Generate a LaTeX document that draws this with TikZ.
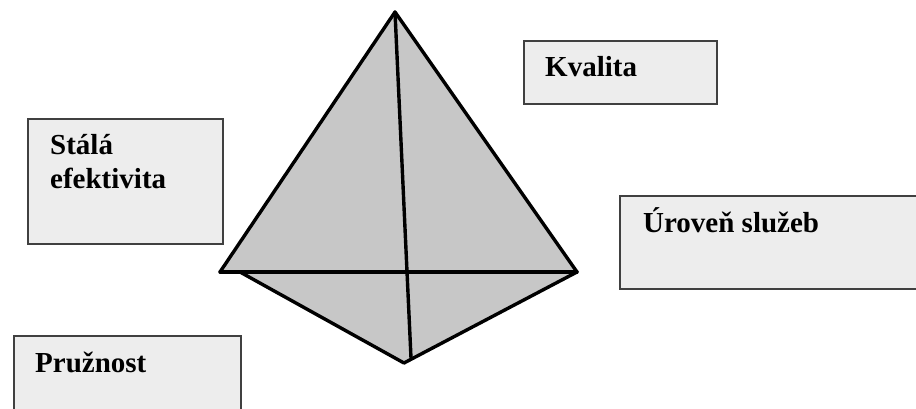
\documentclass[tikz,border=0pt]{standalone}
\usepackage{fontspec}
\setmainfont{Liberation Serif}

\tikzset{
	box/.style={draw=black!75, line width=1.8pt, fill=black!7, anchor=north west, inner sep=0pt},
	boxtext/.style={anchor=base west, inner sep=0pt, align=left, font=\fontsize{29}{34}\selectfont\bfseries},
	hrana/.style={line width=3.4pt, line cap=round, line join=round}
}

\begin{document}
\begin{tikzpicture}[x=1pt, y=-1pt]
			
			% Rozmery obrazku
			\useasboundingbox (0,0) rectangle (916,409);
			\clip (0,0) rectangle (916,409);
			
			% Vrcholy jehlanu
			\coordinate (vrchol) at (395,12);
			\coordinate (levy) at (220,272);
			\coordinate (pravy) at (577,272);
			\coordinate (spodni) at (404,363);
			\coordinate (levyspod) at (240,272); % zacatek spodni leve hrany
			\coordinate (osa) at (411,358); % konec svisle hrany
			
			% Plocha jehlanu
			\fill[black!22] (vrchol) -- (levy) -- (levyspod) -- (spodni) -- (pravy) -- cycle;
			
			% Hrany jehlanu
			\draw[hrana] (levy) -- (vrchol) -- (pravy);
			\draw[hrana] (levy) -- (pravy);
			\draw[hrana] (levyspod) -- (spodni) -- (pravy);
			\draw[hrana] (vrchol) -- (osa);
			
			% Ramecky s popisky
			\node[box, minimum width=195pt, minimum height=125pt] (stalabox) at (27,118) {};
			\node[boxtext] (stala) at ([xshift=23pt, yshift=-71pt]stalabox.north west) {Stálá\\efektivita};
			
			\node[box, minimum width=193pt, minimum height=63pt] (kvalitabox) at (523,40) {};
			\node[boxtext] (kvalita) at ([xshift=22pt, yshift=-37pt]kvalitabox.north west) {Kvalita};
			
			\node[box, minimum width=310pt, minimum height=93pt] (urovenbox) at (619,195) {};
			\node[boxtext] (uroven) at ([xshift=24pt, yshift=-38pt]urovenbox.north west) {Úroveň služeb};
			
			\node[box, minimum width=227pt, minimum height=85pt] (pruznostbox) at (13,335) {};
			\node[boxtext] (pruznost) at ([xshift=22pt, yshift=-37pt]pruznostbox.north west) {Pružnost};
			
		\end{tikzpicture}
\end{document}
